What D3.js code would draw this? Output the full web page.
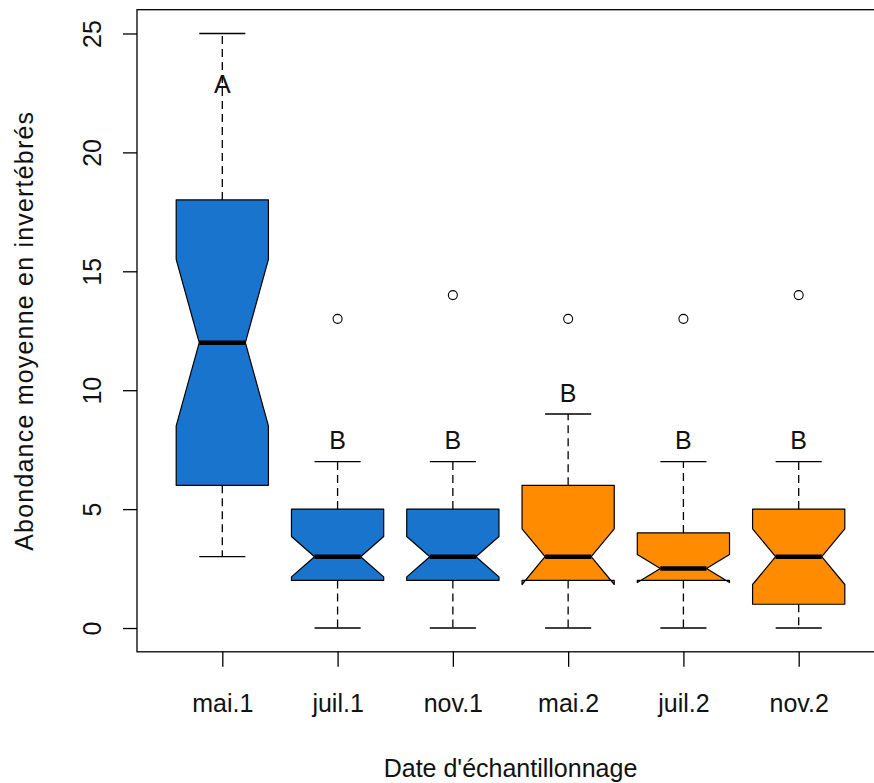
<!DOCTYPE html>
<html>
<head>
<meta charset="utf-8">
<script src="https://cdn.jsdelivr.net/npm/d3@7"></script>
<style>
  html, body { margin: 0; padding: 0; background: #fff; }
  svg text { font-family: "Liberation Sans", Arial, sans-serif; fill: #111; }
</style>
</head>
<body>
<svg id="chart" width="874" height="783"></svg>
<script>
// Sampling dates (two years: 1 and 2)
const categories = ["mai.1", "juil.1", "nov.1", "mai.2", "juil.2", "nov.2"];
const year = [1, 1, 1, 2, 2, 2];

// Box statistics per date
const whiskerLow  = [3, 0, 0, 0, 0, 0];
const q1          = [6, 2, 2, 2, 2, 1];
const median      = [12, 3, 3, 3, 2.5, 3];
const q3          = [18, 5, 5, 6, 4, 5];
const whiskerHigh = [25, 7, 7, 9, 7, 7];
const notchLow    = [8.5, 2.15, 2.15, 1.83, 1.91, 1.83];
const notchHigh   = [15.5, 3.85, 3.85, 4.17, 3.09, 4.17];
const outliers    = [[], [13], [14], [13], [13], [14]];

// Post-hoc group letters and their heights
const groupLetters = ["A", "B", "B", "B", "B", "B"];
const letterY      = [23, 8, 8, 10, 8, 8];

const yTicks = [0, 5, 10, 15, 20, 25];

const svg = d3.select("#chart");
const plotLeft = 137, plotRight = 884, plotTop = 9.7, plotBottom = 651.8;

const x = d3.scalePoint().domain(categories).range([plotLeft, plotRight]).padding(0.74);
const y = d3.scaleLinear().domain([-1, 26]).range([plotBottom, plotTop]);
const color = d3.scaleOrdinal().domain([1, 2]).range(["#1874CD", "#FF8C00"]);

const hw = 0.4 * x.step();        // box half width
const nw = hw * 0.5;              // notch half width at the median
const sw = 0.2 * x.step();        // staple half width

const boxes = categories.map((c, i) => ({
  c, i, year: year[i], lo: whiskerLow[i], q1: q1[i], med: median[i], q3: q3[i],
  hi: whiskerHigh[i], nl: notchLow[i], nh: notchHigh[i], out: outliers[i],
  letter: groupLetters[i], ly: letterY[i]
}));

const g = svg.append("g");

// whiskers
g.selectAll(".whisker").data(boxes).join("g").each(function(d) {
  const s = d3.select(this);
  const cx = x(d.c);
  [[d.q3, d.hi], [d.q1, d.lo]].forEach(([a, b]) => {
    s.append("line").attr("x1", cx).attr("x2", cx).attr("y1", y(a)).attr("y2", y(b))
      .attr("stroke", "#000").attr("stroke-width", 1.3).attr("stroke-dasharray", "8,5");
    s.append("line").attr("x1", cx - sw).attr("x2", cx + sw).attr("y1", y(b)).attr("y2", y(b))
      .attr("stroke", "#000").attr("stroke-width", 1.3);
  });
});

// notched boxes
const line = d3.line();
g.selectAll(".box").data(boxes).join("path")
  .attr("d", d => {
    const cx = x(d.c);
    const pts = [
      [cx - hw, y(d.q1)], [cx + hw, y(d.q1)], [cx + hw, y(d.nl)], [cx + nw, y(d.med)],
      [cx + hw, y(d.nh)], [cx + hw, y(d.q3)], [cx - hw, y(d.q3)], [cx - hw, y(d.nh)],
      [cx - nw, y(d.med)], [cx - hw, y(d.nl)]
    ];
    return line(pts) + "Z";
  })
  .attr("fill", d => color(d.year))
  .attr("stroke", "#000").attr("stroke-width", 1.2).attr("stroke-linejoin", "round");

// medians
g.selectAll(".median").data(boxes).join("line")
  .attr("x1", d => x(d.c) - nw).attr("x2", d => x(d.c) + nw)
  .attr("y1", d => y(d.med)).attr("y2", d => y(d.med))
  .attr("stroke", "#000").attr("stroke-width", 4.5);

// outliers
g.selectAll(".out").data(boxes.flatMap(d => d.out.map(v => ({ c: d.c, v }))))
  .join("circle")
  .attr("cx", d => x(d.c)).attr("cy", d => y(d.v)).attr("r", 4.5)
  .attr("fill", "none").attr("stroke", "#000").attr("stroke-width", 1.1);

// group letters
g.selectAll(".letter").data(boxes).join("text")
  .attr("x", d => x(d.c)).attr("y", d => y(d.ly) + 11.5)
  .attr("text-anchor", "middle").attr("font-size", 25)
  .text(d => d.letter);

// frame
svg.append("rect").attr("x", plotLeft).attr("y", plotTop)
  .attr("width", plotRight - plotLeft).attr("height", plotBottom - plotTop)
  .attr("fill", "none").attr("stroke", "#000").attr("stroke-width", 1.3);

// y axis
const ya = svg.append("g").attr("transform", `translate(${plotLeft},0)`)
  .call(d3.axisLeft(y).tickValues(yTicks).tickSize(14).tickFormat(d3.format("d")));
ya.select(".domain").remove();
ya.selectAll(".tick line").attr("stroke", "#000").attr("stroke-width", 1.3);
ya.selectAll(".tick text")
  .attr("transform", "rotate(-90)")
  .attr("x", 0).attr("y", -36).attr("dy", 0)
  .attr("text-anchor", "middle").attr("font-size", 25)
  .attr("font-family", "Liberation Sans, Arial, sans-serif").attr("fill", "#111");

// x axis
const xa = svg.append("g").attr("transform", `translate(0,${plotBottom})`)
  .call(d3.axisBottom(x).tickSize(15));
xa.select(".domain").remove();
xa.selectAll(".tick line").attr("stroke", "#000").attr("stroke-width", 1.3);
xa.selectAll(".tick text")
  .attr("y", 60).attr("dy", 0).attr("font-size", 25)
  .attr("font-family", "Liberation Sans, Arial, sans-serif").attr("fill", "#111");

// axis titles
svg.append("text")
  .attr("x", (plotLeft + plotRight) / 2).attr("y", 777)
  .attr("text-anchor", "middle").attr("font-size", 25)
  .text("Date d'échantillonnage");

svg.append("text")
  .attr("transform", `translate(33,${(plotTop + plotBottom) / 2}) rotate(-90)`)
  .attr("text-anchor", "middle").attr("font-size", 25)
  .attr("letter-spacing", 1.2)
  .text("Abondance moyenne en invertébrés");
</script>
</body>
</html>
